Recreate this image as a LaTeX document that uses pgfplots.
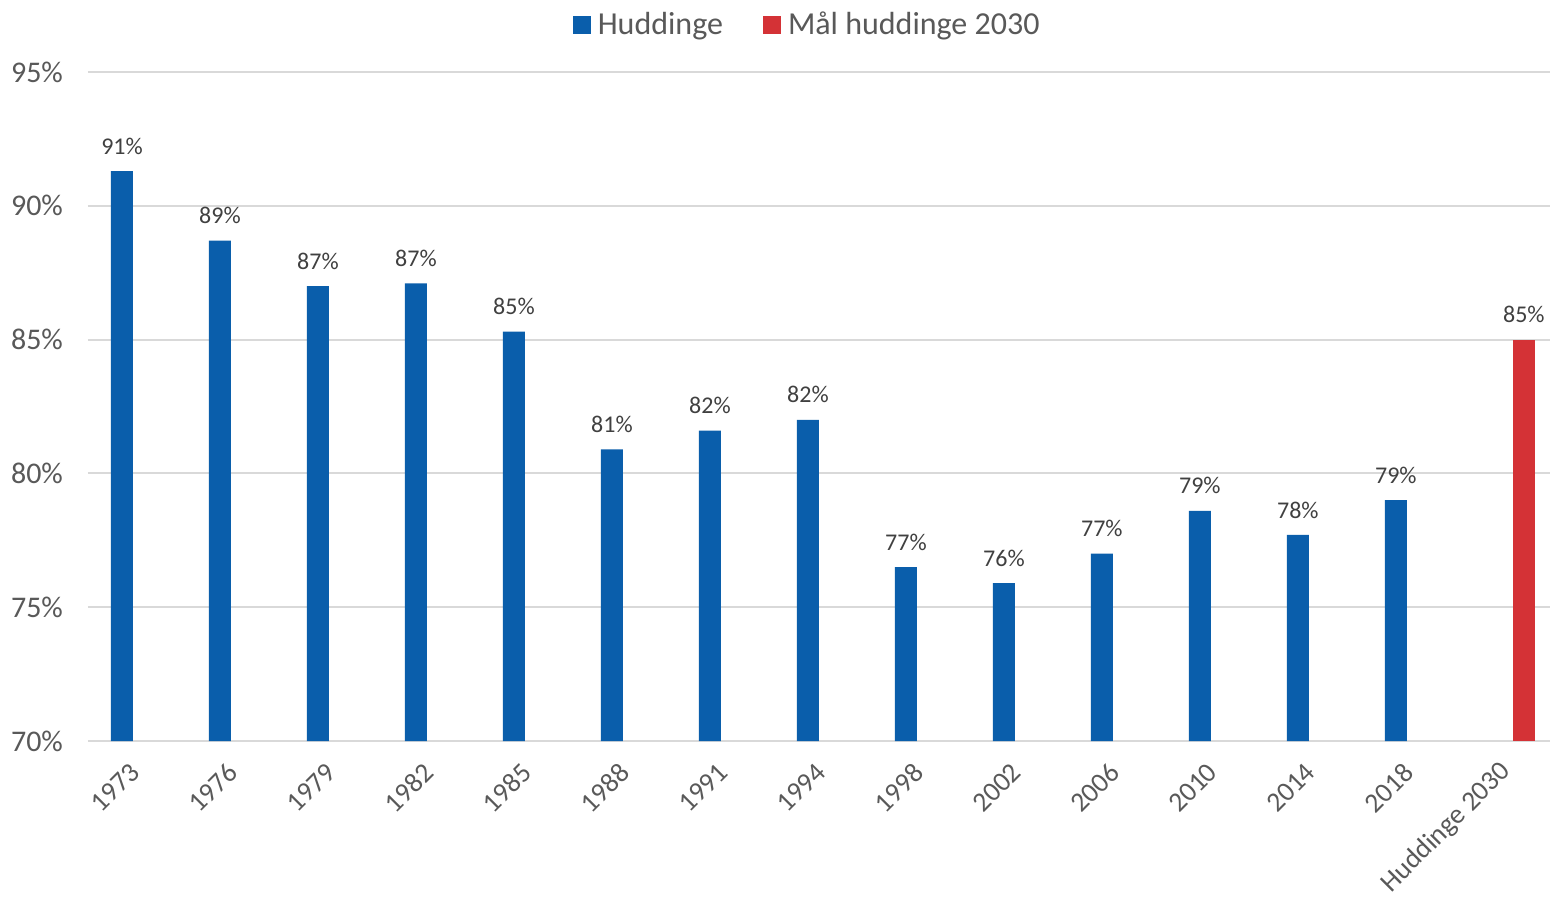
\documentclass[border=0pt]{standalone}
\usepackage{pgfplots}
\pgfplotsset{compat=1.18}
\usepackage{pgfplotstable}
\usepackage{fontspec}
\setmainfont{Carlito}
\definecolor{cblue}{HTML}{0A5EAB}
\definecolor{cred}{HTML}{D43236}
\definecolor{cgrid}{HTML}{D9D9D9}
\definecolor{ctick}{HTML}{595959}
\definecolor{clab}{HTML}{404040}
\pgfplotstableread{
x y lab
0 91.3 91
1 88.7 89
2 87.0 87
3 87.1 87
4 85.3 85
5 80.9 81
6 81.6 82
7 82.0 82
8 76.5 77
9 75.9 76
10 77.0 77
11 78.6 79
12 77.7 78
13 79.0 79
}\hud
\pgfplotstableread{
x y lab
14 85.0 85
}\goal
\begin{document}
\begin{tikzpicture}
\begin{axis}[
  width=731pt, height=334.5pt, scale only axis,
  ybar, bar width=11pt,
  xmin=-0.5, xmax=14.42, ymin=70, ymax=95,
  axis lines=left,
  axis line style={-},
  x axis line style={draw=cgrid, line width=1.2pt},
  y axis line style={draw=none},
  major tick length=0pt,
  ytick={70,75,80,85,90,95},
  yticklabels={70\%,75\%,80\%,85\%,90\%,95\%},
  xtick={0,...,14},
  xticklabels={1973,1976,1979,1982,1985,1988,1991,1994,1998,2002,2006,2010,2014,2018,Huddinge 2030},
  ymajorgrids, major grid style={draw=cgrid, line width=1pt},
  yticklabel style={font=\fontsize{15}{18}\selectfont, text=ctick, xshift=-9pt},
  xticklabel style={font=\fontsize{13.8}{17}\selectfont, text=ctick, inner sep=1pt, xshift=-0.3pt, yshift=-12.6pt, rotate=45, anchor=east},
  every node near coord/.append style={font=\fontsize{12}{14}\selectfont, text=clab, anchor=center, yshift=12.5pt},
  point meta=explicit symbolic,
  nodes near coords={\pgfplotspointmeta\%},
  legend style={at={(0.4926,1)}, anchor=center, yshift=23.5pt, draw=none, legend columns=-1,
    font=\fontsize{16}{19}\selectfont, text=ctick,
    /tikz/every even column/.append style={column sep=18pt}},
  legend image code/.code={\fill[#1,draw=none] (0pt,-4.5pt) rectangle (9pt,4.5pt);},
  clip=false,
]
\addplot[fill=cblue, draw=none, bar shift=-7.5pt] table[x=x, y=y, meta=lab] {\hud};
\addlegendentry{\hspace{1.5pt}Huddinge}
\addplot[fill=cred, draw=none, bar shift=7.5pt] table[x=x, y=y, meta=lab] {\goal};
\addlegendentry{\hspace{1.5pt}Mål huddinge 2030}
\end{axis}
\pgfresetboundingbox
\path[use as bounding box] ([xshift=-44pt,yshift=-79pt]current axis.south west) rectangle ([yshift=36pt]current axis.north east);
\end{tikzpicture}
\end{document}
